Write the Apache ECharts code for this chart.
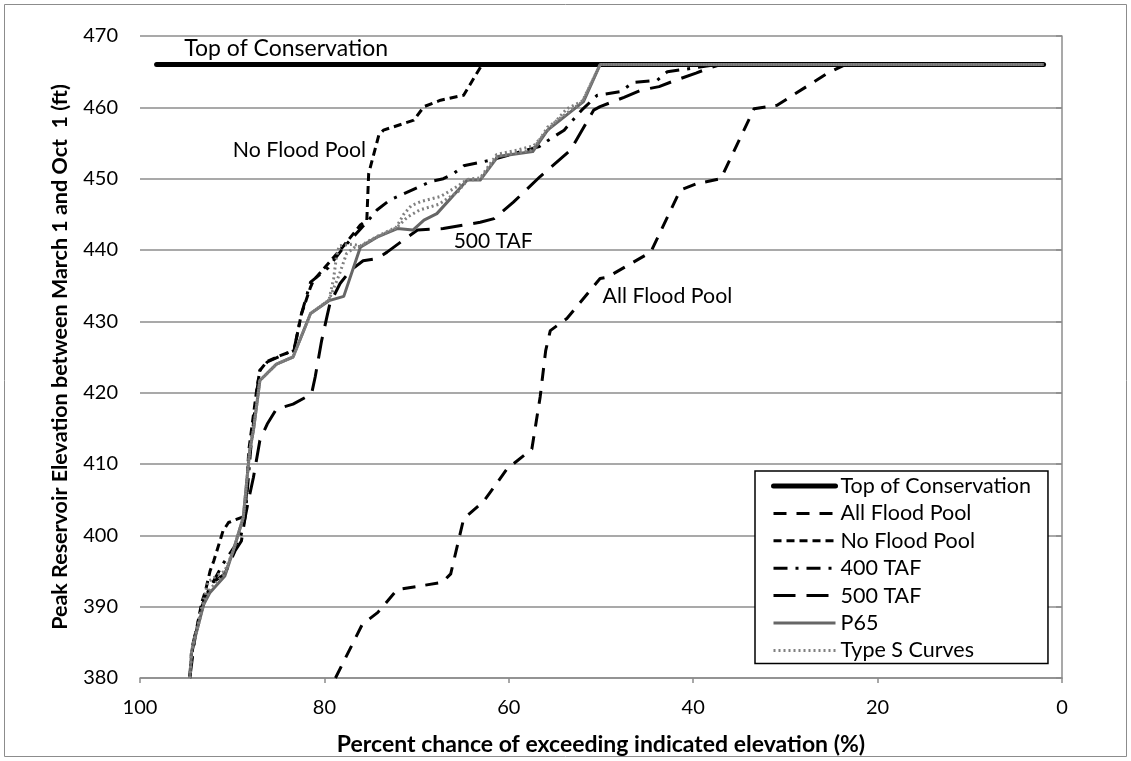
<!DOCTYPE html>
<html><head><meta charset="utf-8">
<script src="https://cdn.jsdelivr.net/npm/echarts@6/dist/echarts.min.js"></script>
<style>html,body{margin:0;padding:0;background:#fff}#c{width:1131px;height:761px}</style>
</head><body><div id="c"></div>
<script>
// ---- data (x = percent chance of exceedance, y = elevation ft) ----
const topOfConservation = [[98.2,466],[2,466]];
const allFloodPool = [[78.8,380],[75.9,387.5],[74.2,389.2],[72.1,392.4],[67.2,393.4],[66.3,394.6],[64.9,402.3],[62.7,404.8],[60.2,409.3],[57.5,412.1],[56.6,419.4],[56.0,425.9],[55.5,428.7],[53.7,430.4],[50.1,436.0],[49.3,436.2],[44.6,439.7],[41.4,448.4],[39.6,449.3],[37.0,450.0],[33.4,459.8],[30.9,460.3],[25.4,464.8],[23.5,466],[2,466]];
const noFloodPool = [[94.6,380],[94.3,384],[93.3,390.6],[92.9,392.2],[92.4,395.0],[92.0,396.4],[91.0,400.6],[90.4,401.8],[88.6,402.7],[88.2,411.9],[87.3,420.8],[87.0,423.1],[86.2,424.4],[84.8,425.2],[83.3,425.9],[82.5,431.0],[81.5,434.8],[81.2,435.7],[77.9,440.6],[76.1,443.5],[75.4,444.2],[75.2,450.7],[74.1,456.1],[73.6,456.8],[70.3,458.2],[69.2,460.1],[67.4,461.0],[64.9,461.7],[62.9,466],[2,466]];
const taf400 = [[94.6,380],[94.4,384],[93.3,390],[92.6,392.2],[91.0,396.0],[89.1,399.7],[88.6,402.5],[88.0,412],[87.3,420.5],[87.0,423.1],[86.2,424.3],[84.5,425.3],[83.3,426.0],[82.5,431],[81.5,435.5],[79.6,437.5],[77.9,440.4],[75.4,443.9],[74.3,445.6],[72.9,447.0],[71.0,448.1],[69.8,448.8],[68.5,449.6],[67.1,450.0],[66.0,450.7],[64.9,451.8],[63.4,452.2],[62.0,452.6],[56.7,454.5],[55.7,455.4],[54.0,456.8],[52.1,459.6],[50.4,461.7],[47.9,462.2],[46.5,463.5],[43.9,463.8],[42.8,465.0],[40.0,465.5],[37.5,466],[2,466]];
const taf500 = [[94.6,380],[94.0,386],[93.0,391],[92.0,393.5],[90.8,394.6],[89.7,397.8],[89.0,399.2],[88.6,402.5],[88.2,405.1],[87.7,408.1],[87.0,413.3],[86.2,415.6],[85.2,417.7],[83.4,418.4],[81.4,419.8],[81.0,422.2],[80.3,427.3],[79.7,430.8],[79.4,432.5],[78.3,435.3],[77.2,437.1],[75.8,438.5],[74.3,438.8],[73.2,439.7],[71.0,441.8],[69.9,442.8],[67.1,443.0],[63.1,443.9],[61.6,444.4],[59.5,446.7],[56.6,450.3],[53.3,454.0],[50.8,459.6],[50.1,460.1],[47.5,461.4],[45.7,462.4],[43.7,462.9],[42.1,463.7],[39.7,464.8],[38.3,465.5],[37.0,466],[2,466]];
const p65 = [[94.6,380],[94.4,383.8],[93.1,390.3],[92.4,392.0],[90.8,394.3],[89.9,397.8],[88.8,402.5],[88.1,411.9],[87.7,414.7],[87.0,421.7],[85.2,424.0],[83.4,425.0],[81.5,431.1],[79.5,432.9],[77.9,433.5],[76.1,440.4],[74.3,441.8],[72.1,443.0],[70.4,442.8],[69.2,444.2],[67.8,445.1],[64.5,449.8],[63.1,449.8],[61.2,453.1],[57.4,453.8],[55.8,456.8],[51.9,460.8],[50.1,466],[2,466]];
const typeS1 = [[94.6,380],[94.4,383.8],[93.2,390.5],[92.6,393.5],[91.5,394.5],[90.8,395.0],[89.9,397.8],[88.8,402.5],[88.1,411.9],[87.7,414.7],[87.0,421.7],[85.2,424.0],[83.4,425.0],[81.5,431.1],[79.5,433.0],[79.0,436.0],[78.7,439.0],[78.4,440.6],[77.0,440.8],[76.1,440.6],[74.3,441.9],[72.2,443.2],[71.4,445.0],[70.6,446.2],[69.5,446.8],[67.4,447.5],[65.6,448.9],[64.5,449.9],[63.1,450.1],[61.3,453.4],[59.1,454.0],[57.3,454.6],[56.6,455.6],[53.7,459.8],[52.0,460.9],[50.1,466],[2,466]];
const typeS2 = [[94.6,380],[94.4,383.8],[93.1,390.3],[92.4,392.5],[90.8,394.6],[89.9,397.8],[88.8,402.5],[88.1,411.9],[87.7,414.7],[87.0,421.7],[85.2,424.0],[83.4,425.0],[81.5,431.1],[79.5,433.0],[78.4,436.5],[77.6,439.5],[76.6,440.5],[76.1,440.5],[74.3,441.8],[72.2,443.1],[71.0,444.6],[69.7,445.6],[67.6,446.4],[65.5,448.2],[64.5,449.8],[63.1,449.9],[61.2,453.2],[57.4,454.0],[55.8,457.2],[52.0,460.8],[50.1,466],[2,466]];
const seriesNames = ['Top of Conservation','All Flood Pool','No Flood Pool','400 TAF','500 TAF','P65','Type S Curves'];
const annotations = [['Top of Conservation',84.15,468.3,23],['No Flood Pool',82.7,454.0,21.3],['500 TAF',61.7,441.2,21],['All Flood Pool',42.8,433.6,21.3]];

const FONT = 'Lato';
const chart = echarts.init(document.getElementById('c'), null, {renderer:'canvas'});
function line(name, data, color, width, type, cap){
  return {name, type:'line', data, symbol:'none', showSymbol:false, silent:true, animation:false,
    lineStyle:{color, width, type, cap: cap || 'butt', join:'round'}, itemStyle:{color}};
}
const option = {
  animation:false,
  backgroundColor:'#fff',
  grid:{left:140, right:69, top:36, bottom:83},
  xAxis:{type:'value', inverse:true, min:0, max:100, interval:20,
    name:'Percent chance of exceeding indicated elevation (%)', nameLocation:'middle', nameGap:55,
    nameTextStyle:{fontFamily:FONT, fontWeight:'bold', fontSize:23, color:'#000'},
    axisLine:{show:true, lineStyle:{color:'#8c8c8c', width:1.5}},
    axisTick:{show:true, length:5, lineStyle:{color:'#8c8c8c', width:1.5}},
    axisLabel:{fontFamily:FONT, fontSize:20, color:'#000', margin:20},
    splitLine:{show:false}},
  yAxis:{type:'value', min:380, max:470, interval:10,
    name:'Peak Reservoir Elevation between March 1 and Oct  1 (ft)', nameLocation:'middle', nameGap:69,
    nameTextStyle:{fontFamily:FONT, fontWeight:'bold', fontSize:21.5, color:'#000'},
    axisLine:{show:true, lineStyle:{color:'#8c8c8c', width:1.5}},
    axisTick:{show:true, length:6, lineStyle:{color:'#8c8c8c', width:1.5}},
    axisLabel:{fontFamily:FONT, fontSize:20, color:'#000', margin:22},
    splitLine:{show:true, lineStyle:{color:'#8c8c8c', width:1.5}}},
  legend:{show:true, orient:'vertical', left:755, top:471, data:seriesNames,
    backgroundColor:'#fff', borderColor:'#000', borderWidth:1.5, padding:[4,17,2,16],
    itemWidth:62, itemHeight:14, itemGap:5.4, itemStyle:{opacity:0},
    lineStyle:{width:'inherit', type:'inherit', cap:'inherit'},
    textStyle:{fontFamily:FONT, fontSize:21.5, color:'#000', lineHeight:20}},
  series:[
    line(seriesNames[0], topOfConservation, '#000', 5, 'solid', 'round'),
    line(seriesNames[1], allFloodPool, '#000', 3, [13,10]),
    line(seriesNames[2], noFloodPool, '#000', 3, [8,5]),
    line(seriesNames[3], taf400, '#000', 3, [14,8,3,8]),
    line(seriesNames[4], taf500, '#000', 3, [22,11]),
    line(seriesNames[5], p65, '#666666', 3, 'solid'),
    line(seriesNames[6], typeS1, '#808080', 3, [2,3]),
    line(seriesNames[6], typeS2, '#808080', 3, [2,3])
  ]
};
chart.setOption(option);
const g = [{type:'rect', shape:{x:4.5,y:4.5,width:1122,height:752}, style:{fill:null, stroke:'#8c8c8c', lineWidth:1}, silent:true, z:-10}];
annotations.forEach(a=>{
  const p = chart.convertToPixel({gridIndex:0}, [a[1], a[2]]);
  g.push({type:'text', x:p[0], y:p[1], style:{text:a[0], fontFamily:FONT, fontSize:a[3], fill:'#000', align:'center', verticalAlign:'middle'}, z:100});
});
chart.setOption({graphic:g});
</script></body></html>
